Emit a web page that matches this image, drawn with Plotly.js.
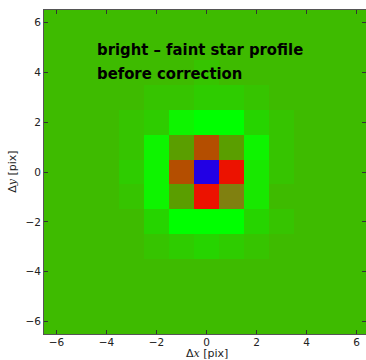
<!DOCTYPE html>
<html>
<head>
<meta charset="utf-8">
<script src="https://cdn.plot.ly/plotly-3.0.1.min.js"></script>
<style>html,body{margin:0;padding:0;background:#fff;}</style>
</head>
<body>
<div id="chart" style="width:366px;height:360px;"></div>
<script>
// pixel offsets (cell centres)
const dx = [-6,-5,-4,-3,-2,-1,0,1,2,3,4,5,6];
const dy = [6,5,4,3,2,1,0,-1,-2,-3,-4,-5,-6];

// colour palette of the RGB composite (index -> colour)
const palette = [
  'rgb(62,187,0)',   // 0 background
  'rgb(54,196,0)',   // 1 faint ring
  'rgb(46,204,0)',   // 2
  'rgb(38,212,0)',   // 3
  'rgb(24,232,0)',   // 4
  'rgb(14,244,0)',   // 5
  'rgb(0,255,0)',    // 6 bright green
  'rgb(90,158,0)',   // 7 olive
  'rgb(128,128,16)', // 8 dark olive
  'rgb(180,78,0)',   // 9 brown
  'rgb(236,18,0)',   // 10 red
  'rgb(34,0,228)'    // 11 blue
];

// residual image: palette index per pixel, rows dy=6 ... -6, columns dx=-6 ... 6
const residual = [
  [0,0,0,0,0,0,0,0,0,0,0,0,0],
  [0,0,0,0,0,0,0,0,0,0,0,0,0],
  [0,0,0,0,0,0,1,0,0,0,0,0,0],
  [0,0,0,0,1,1,2,2,1,0,0,0,0],
  [0,0,0,1,2,5,6,6,3,1,0,0,0],
  [0,0,0,1,5,7,9,7,5,1,0,0,0],
  [0,0,0,2,5,9,11,10,4,1,0,0,0],
  [0,0,0,1,5,7,10,8,4,0,0,0,0],
  [0,0,0,0,3,6,6,6,3,1,0,0,0],
  [0,0,0,0,1,2,3,2,1,0,0,0,0],
  [0,0,0,0,0,0,0,0,0,0,0,0,0],
  [0,0,0,0,0,0,0,0,0,0,0,0,0],
  [0,0,0,0,0,0,0,0,0,0,0,0,0]
];

const xTicks = [-6,-4,-2,0,2,4,6];
const yTicks = [-6,-4,-2,0,2,4,6];
const xTitle = "\u0394<span style='font-family:DejaVu Serif'><i>x</i></span> [pix]";
const yTitle = "\u0394<span style='font-family:DejaVu Serif'><i>y</i></span> [pix]";
const labelLines = ['bright \u2013 faint star profile', 'before correction'];

// discrete colorscale built from the palette
const n = palette.length;
const colorscale = [];
palette.forEach((c,k)=>{ colorscale.push([k/n, c]); colorscale.push([(k+1)/n, c]); });

const trace = {
  type: 'heatmap',
  x: dx, y: dy, z: residual,
  zmin: -0.5, zmax: n-0.5,
  colorscale: colorscale,
  showscale: false,
  hoverinfo: 'skip'
};

const axisCommon = {
  showgrid: false, zeroline: false,
  ticks: 'inside', ticklen: 4, tickwidth: 1, tickcolor: '#333',
  showline: true, linecolor: '#555', linewidth: 1, mirror: 'ticks',
  tickfont: {family: 'DejaVu Sans', size: 10.5, color: '#222'}
};

const titleFont = {family: 'DejaVu Sans', size: 11, color: '#222'};
const labelFont = {family: "'Liberation Sans Narrow', 'DejaVu Sans Condensed', 'Arial Narrow', sans-serif", size: 16.5, color: '#000', weight: 'bold'};

const layout = {
  width: 366, height: 360,
  margin: {l: 44, r: 0, t: 10, b: 26},
  paper_bgcolor: '#fff', plot_bgcolor: '#fff',
  showlegend: false,
  xaxis: Object.assign({}, axisCommon, {
    range: [-6.5, 6.38], tickvals: xTicks, ticktext: xTicks.map(v=>v<0?'\u2212'+(-v):String(v)),
    ticklabelstandoff: -2
  }),
  yaxis: Object.assign({}, axisCommon, {
    range: [-6.5, 6.5], tickvals: yTicks, ticktext: yTicks.map(v=>v<0?'\u2212'+(-v):String(v))
  }),
  annotations: [{
    xref: 'x', yref: 'y', x: -4.46, y: 4.9, xanchor: 'left', yanchor: 'middle',
    showarrow: false, text: '<b>' + labelLines[0] + '</b>', font: labelFont
  }, {
    xref: 'x', yref: 'y', x: -4.46, y: 3.97, xanchor: 'left', yanchor: 'middle',
    showarrow: false, text: '<b>' + labelLines[1] + '</b>', font: labelFont
  }, {
    xref: 'x', yref: 'paper', x: 0, y: -0.059, xanchor: 'center', yanchor: 'middle',
    showarrow: false, text: xTitle, font: titleFont
  }, {
    xref: 'paper', yref: 'y', x: -0.1, y: 0, xanchor: 'center', yanchor: 'middle',
    textangle: -90, showarrow: false, text: yTitle, font: titleFont
  }]
};

Plotly.newPlot('chart', [trace], layout, {staticPlot: true, displayModeBar: false});
</script>
</body>
</html>
